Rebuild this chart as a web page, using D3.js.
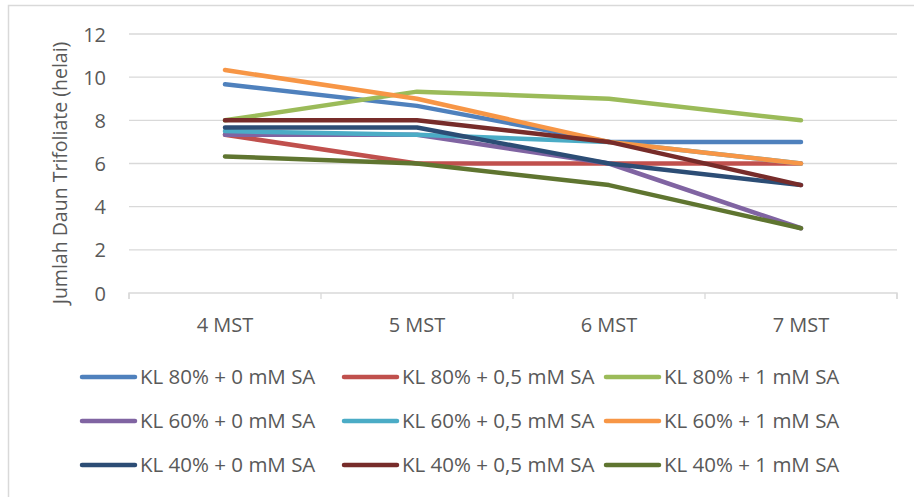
<!DOCTYPE html>
<html><head><meta charset="utf-8">
<script src="https://cdn.jsdelivr.net/npm/d3@7"></script>
<style>body{margin:0;background:#fff}text{font-family:"Open Sans",sans-serif;fill:#595959}</style>
</head><body>
<svg id="c" width="914" height="497"></svg>
<script>
const categories = ["4 MST", "5 MST", "6 MST", "7 MST"];
const seriesNames = ["KL 80% + 0 mM SA","KL 80% + 0,5 mM SA","KL 80% + 1 mM SA",
  "KL 60% + 0 mM SA","KL 60% + 0,5 mM SA","KL 60% + 1 mM SA",
  "KL 40% + 0 mM SA","KL 40% + 0,5 mM SA","KL 40% + 1 mM SA"];
const kl80_0 = [9.67, 8.67, 7, 7];
const kl80_05 = [7.33, 6, 6, 6];
const kl80_1 = [8, 9.33, 9, 8];
const kl60_0 = [7.33, 7.33, 6, 3];
const kl60_05 = [7.5, 7.33, 7, 6];
const kl60_1 = [10.33, 9, 7, 6];
const kl40_0 = [7.67, 7.67, 6, 5];
const kl40_05 = [8, 8, 7, 5];
const kl40_1 = [6.33, 6, 5, 3];
const seriesValues = [kl80_0, kl80_05, kl80_1, kl60_0, kl60_05, kl60_1, kl40_0, kl40_05, kl40_1];
const colors = ["#4F81BD","#C0504D","#9BBB59","#8064A2","#4BACC6","#F79646","#2C4D75","#772C2A","#5F7530"];
const yTicks = [0, 2, 4, 6, 8, 10, 12];
const yTitle = "Jumlah Daun Trifoliate (helai)";

const svg = d3.select("#c");
svg.append("rect").attr("x",8.5).attr("y",5.5).attr("width",920).attr("height",520)
  .attr("fill","#fff").attr("stroke","#D9D9D9").attr("stroke-width",1.5);

const x = d3.scaleBand().domain(categories).range([129, 897]);
const y = d3.scaleLinear().domain([0, 12]).range([293, 34]);

const g = svg.append("g");
g.selectAll(".grid").data(yTicks.filter(d=>d>0)).join("line")
  .attr("x1",129).attr("x2",897).attr("y1",d=>y(d)).attr("y2",d=>y(d))
  .attr("stroke","#D9D9D9").attr("stroke-width",1.3);

const yAxis = d3.axisLeft(y).tickValues(yTicks).tickSize(0).tickPadding(0);
const ya = g.append("g").attr("transform","translate(106,0)").call(yAxis);
ya.select(".domain").remove();
ya.selectAll("text").attr("font-size",20).style("font-family","'Open Sans',sans-serif").attr("fill","#595959").attr("dy","0.35em");

const xAxis = d3.axisBottom(x).tickSize(0).tickPadding(0);
const xa = g.append("g").attr("transform","translate(0,293)").call(xAxis);
xa.select(".domain").attr("stroke","#D9D9D9").attr("stroke-width",1.3).attr("d","M129,6V0H897V6");
xa.selectAll("text").attr("font-size",20).style("font-family","'Open Sans',sans-serif").attr("fill","#595959").attr("y",25);
g.selectAll(".bt").data(d3.range(categories.length+1)).join("line")
  .attr("x1",i=>129+i*x.bandwidth()).attr("x2",i=>129+i*x.bandwidth())
  .attr("y1",293).attr("y2",299).attr("stroke","#D9D9D9").attr("stroke-width",1.3);

svg.append("text").attr("transform","translate(67,173) rotate(-90)").attr("text-anchor","middle")
  .attr("font-size",19.5).text(yTitle);

const line = d3.line().x((d,i)=>x(categories[i])+x.bandwidth()/2).y(d=>y(d));
g.selectAll(".series").data(seriesValues).join("path")
  .attr("d",line).attr("fill","none").attr("stroke",(d,i)=>colors[i])
  .attr("stroke-width",4.5).attr("stroke-linecap","round").attr("stroke-linejoin","round");

const colX = [81, 343, 605], rowY = [377, 421, 465];
const lg = svg.append("g");
seriesNames.forEach((n,i)=>{
  const cx = colX[i%3], cy = rowY[Math.floor(i/3)];
  lg.append("line").attr("x1",cx+1).attr("x2",cx+54).attr("y1",cy).attr("y2",cy)
    .attr("stroke",colors[i]).attr("stroke-width",4.5).attr("stroke-linecap","round");
  lg.append("text").attr("x",cx+59).attr("y",cy).attr("dy","0.35em").attr("font-size",20.5).text(n);
});
</script>
</body></html>
